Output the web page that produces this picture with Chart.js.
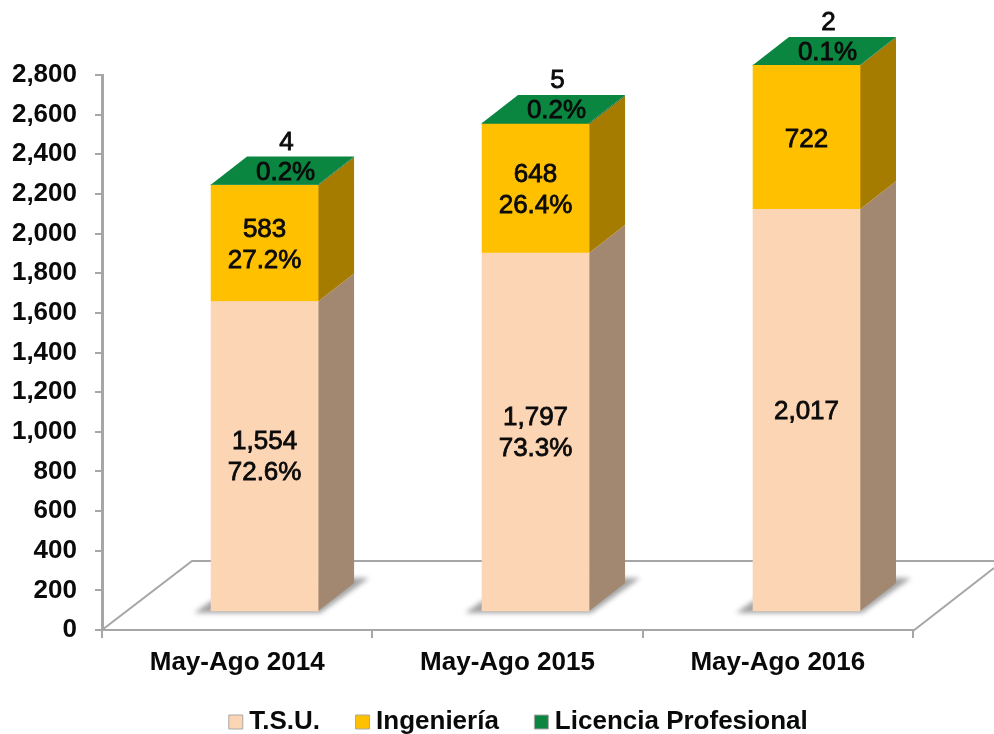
<!DOCTYPE html>
<html><head><meta charset="utf-8">
<style>html,body{margin:0;padding:0;background:#fff}canvas{display:block}#w{width:994px;height:734px}</style>
<script src="https://cdn.jsdelivr.net/npm/chart.js@4/dist/chart.umd.min.js"></script>
</head><body><div id="w"><canvas id="c" width="994" height="734"></canvas></div>
<script>
const categories = ['May-Ago 2014','May-Ago 2015','May-Ago 2016'];
const tsu = [1554,1797,2017];
const ingenieria = [583,648,722];
const licencia = [4,5,2];
const tsuPct = ['72.6%','73.3%',null];
const ingPct = ['27.2%','26.4%',null];
const licPct = ['0.2%','0.2%','0.1%'];
const FONT = '"Liberation Sans", Arial, sans-serif';
const pts = a => a.map((v,i)=>({x:i,y:v}));
const DEPTH_X = 36, DEPTH_Y = 28;

function poly(ctx, p, fill){
  ctx.beginPath(); p.forEach((q,i)=> i?ctx.lineTo(q[0],q[1]):ctx.moveTo(q[0],q[1])); ctx.closePath();
  ctx.fillStyle = fill; ctx.fill();
}
const scene3d = {
  id:'scene3d',
  afterLayout(chart){
    const L = chart.legend;
    L.left += 65; L.right += 65; L.top += 11; L.bottom += 11;
    chart.scales.x.bottom = chart.height;
  },
  beforeDatasetsDraw(chart){
    const ctx = chart.ctx, a = chart.chartArea, W = chart.width;
    ctx.save();
    // floor
    const yBack = a.bottom - 69;
    ctx.strokeStyle = '#a6a6a6'; ctx.lineWidth = 2;
    ctx.beginPath();
    ctx.moveTo(a.left, a.bottom); ctx.lineTo(a.left+90, yBack); ctx.lineTo(W, yBack);
    ctx.moveTo(a.right, a.bottom+1); ctx.lineTo(W, a.bottom-62);
    ctx.stroke();
    // shadows
    const m0 = chart.getDatasetMeta(0).data;
    m0.forEach(b=>{
      const l=b.x-b.width/2, r=b.x+b.width/2, y=b.base;
      ctx.save(); ctx.filter='blur(2.5px)';
      poly(ctx,[[l-17,y+2],[r+2,y+2],[r+51,y-33],[r+20,y-33],[l,y-10]],'#a3a3a3');
      ctx.restore();
    });
    // sides and tops
    const n = chart.data.datasets.length;
    chart.data.datasets.forEach((ds,di)=>{
      chart.getDatasetMeta(di).data.forEach(b=>{
        const r=b.x+b.width/2, l=b.x-b.width/2;
        poly(ctx,[[r,b.y],[r+DEPTH_X,b.y-DEPTH_Y],[r+DEPTH_X,b.base-DEPTH_Y],[r,b.base]],ds.sideColor);
        if(di===n-1) poly(ctx,[[l,b.y],[l+DEPTH_X,b.y-DEPTH_Y],[r+DEPTH_X,b.y-DEPTH_Y],[r,b.y]],ds.topColor);
      });
    });
    ctx.restore();
  },
  afterDatasetsDraw(chart){
    const ctx = chart.ctx;
    const put = (t,x,y)=>{ if(t===null) return; ctx.strokeText(t,x,y); ctx.fillText(t,x,y); };
    ctx.save();
    ctx.font = '26px '+FONT; ctx.textAlign='center'; ctx.textBaseline='middle';
    ctx.fillStyle='#0a0a0a'; ctx.strokeStyle='#0a0a0a'; ctx.lineWidth=0.8;
    const pct=[tsuPct,ingPct];
    [tsu,ingenieria].forEach((vals,di)=>{
      chart.getDatasetMeta(di).data.forEach((b,i)=>{
        const cy=(b.y+b.base)/2, t=vals[i].toLocaleString('en-US');
        if(pct[di][i]===null){ put(t,b.x,cy+2); }
        else { put(t,b.x,cy-14); put(pct[di][i],b.x,cy+17); }
      });
    });
    chart.getDatasetMeta(2).data.forEach((b,i)=>{
      put(licPct[i],b.x+21,b.y-12);
      put(String(licencia[i]),b.x+22,b.y-42);
    });
    ctx.restore();
  }
};

new Chart(document.getElementById('c'),{
  type:'bar',
  data:{
    labels:categories,
    datasets:[
      {label:'T.S.U.',data:pts(tsu),backgroundColor:'#FCD5B5',sideColor:'#A28870'},
      {label:'Ingeniería',data:pts(ingenieria),backgroundColor:'#FFC000',sideColor:'#A67C00'},
      {label:'Licencia Profesional',data:pts(licencia),backgroundColor:'#0B8640',sideColor:'#075A2B',topColor:'#0B8640'}
    ].map(d=>Object.assign(d,{xAxisID:'xb',yAxisID:'yb',barThickness:107,borderWidth:0,clip:false}))
  },
  plugins:[scene3d],
  options:{
    responsive:false,animation:false,locale:'en-US',
    layout:{padding:{left:0,right:81,top:75,bottom:0}},
    scales:{
      x:{type:'category',position:'bottom',labels:categories,offset:true,
         border:{color:'#a6a6a6',width:2},
         grid:{offset:true,drawOnChartArea:false,color:'#a6a6a6',lineWidth:2,tickLength:8,tickColor:'#a6a6a6'},
         ticks:{color:'#0a0a0a',font:{family:FONT,size:26,weight:'bold'},padding:9,maxRotation:0},
         afterFit(s){ s.height = 104 - ((s.chart.legend&&s.chart.legend.height)||40); }},
      y:{type:'linear',position:'left',min:0,max:2800,
         border:{color:'#a6a6a6',width:3},
         grid:{drawOnChartArea:false,color:'#a6a6a6',lineWidth:2,tickLength:7,tickColor:'#a6a6a6'},
         ticks:{stepSize:200,color:'#0a0a0a',font:{family:FONT,size:26,weight:'bold'},padding:18,autoSkip:false},
         afterFit(s){ s.width = 102; }},
      xb:{type:'linear',display:false,stacked:true,offset:false,position:'bottom',min:-0.6,max:2.393},
      yb:{type:'linear',display:false,stacked:true,position:'left',min:-95.4,max:2691}
    },
    plugins:{
      tooltip:{enabled:false},
      title:{display:false},
      legend:{position:'bottom',align:'center',
        labels:{usePointStyle:true,pointStyle:'rect',boxWidth:1,boxHeight:14,padding:42,color:'#0a0a0a',
                font:{family:FONT,size:26,weight:'bold'},
                generateLabels(chart){
                  return Chart.defaults.plugins.legend.labels.generateLabels(chart).map(it=>Object.assign(it,{lineWidth:1,strokeStyle:'#a8a8a8'}));
                }}}
    }
  }
});
</script></body></html>
